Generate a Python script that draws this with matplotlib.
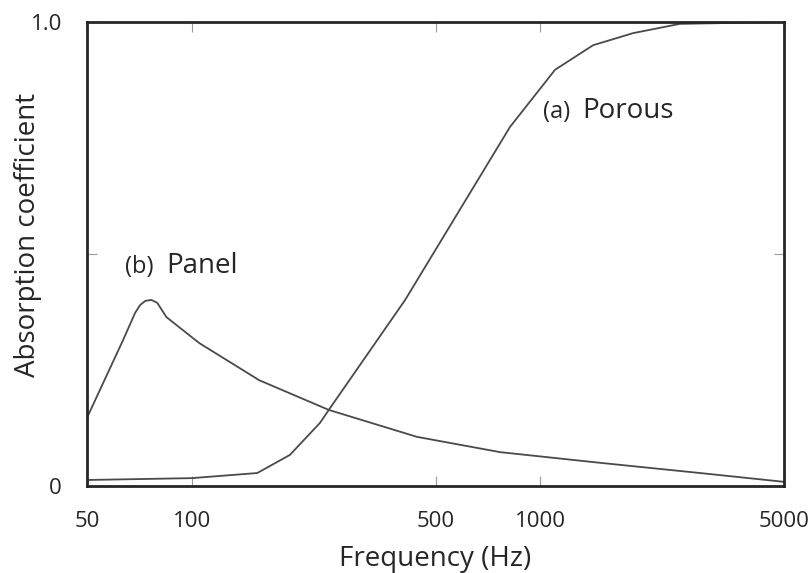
import numpy as np
import matplotlib
matplotlib.use("Agg")
import matplotlib.pyplot as plt  # noqa: E402

plt.rcParams["font.family"] = ["Open Sans", "DejaVu Sans"]

# (a) porous absorber
porous_f = [50, 100, 154, 191, 233, 247, 409, 818, 1101, 1416, 1844, 2512, 5000]
porous_a = [0.013, 0.017, 0.028, 0.067, 0.136, 0.164, 0.401, 0.774, 0.897, 0.950, 0.976, 0.996, 1.0]

# (b) panel absorber
panel_f = [50, 63.5, 68.7, 71, 73.5, 76.5, 79.5, 84.5, 105, 156, 247, 442, 766, 1483, 2870, 5000]
panel_a = [0.147, 0.315, 0.373, 0.390, 0.399, 0.401, 0.395, 0.364, 0.308, 0.228, 0.164, 0.106, 0.073,
           0.050, 0.028, 0.009]

xticks = [50, 100, 500, 1000, 5000]
xlabels = ["50", "100", "500", "1000", "5000"]
yticks = [0, 0.5, 1.0]
ylabels = ["0", "", "1.0"]

LINE = "#4a4a4a"
INK = "#262626"

fig = plt.figure(figsize=(8.1, 5.73), dpi=100)
ax = fig.add_axes([0.1074, 0.1518, 0.8606, 0.8098])

ax.plot(porous_f, porous_a, color=LINE, lw=1.3)
ax.plot(panel_f, panel_a, color=LINE, lw=1.3)

ax.set_xscale("log")
ax.set_xlim(50, 5000)
ax.set_ylim(0, 1.0)
ax.set_xticks(xticks)
ax.set_xticklabels(xlabels)
ax.xaxis.set_minor_locator(matplotlib.ticker.NullLocator())
ax.set_yticks(yticks)
ax.set_yticklabels(ylabels)

ax.tick_params(axis="both", direction="in", length=7, width=0.8, color="#999999",
               top=True, right=True, labelsize=16, labelcolor=INK)
ax.tick_params(axis="x", pad=18)
ax.tick_params(axis="y", pad=18)
for s in ax.spines.values():
    s.set_linewidth(2.0)
    s.set_color(INK)

ax.set_xlabel("Frequency (Hz)", fontsize=20, color=INK)
ax.set_ylabel("Absorption coefficient", fontsize=20, color=INK)
ax.xaxis.set_label_coords(0.5, -0.127)
ax.yaxis.set_label_coords(-0.064, 0.541)

ax.text(64.3, 0.459, "(b)", fontsize=17, color=INK, va="baseline", ha="left")
ax.text(84.3, 0.459, "Panel", fontsize=20, color=INK, va="baseline", ha="left")
ax.text(1017, 0.793, "(a)", fontsize=17, color=INK, va="baseline", ha="left")
ax.text(1316, 0.793, "Porous", fontsize=20, color=INK, va="baseline", ha="left")

fig.savefig("out.png", dpi=100)
